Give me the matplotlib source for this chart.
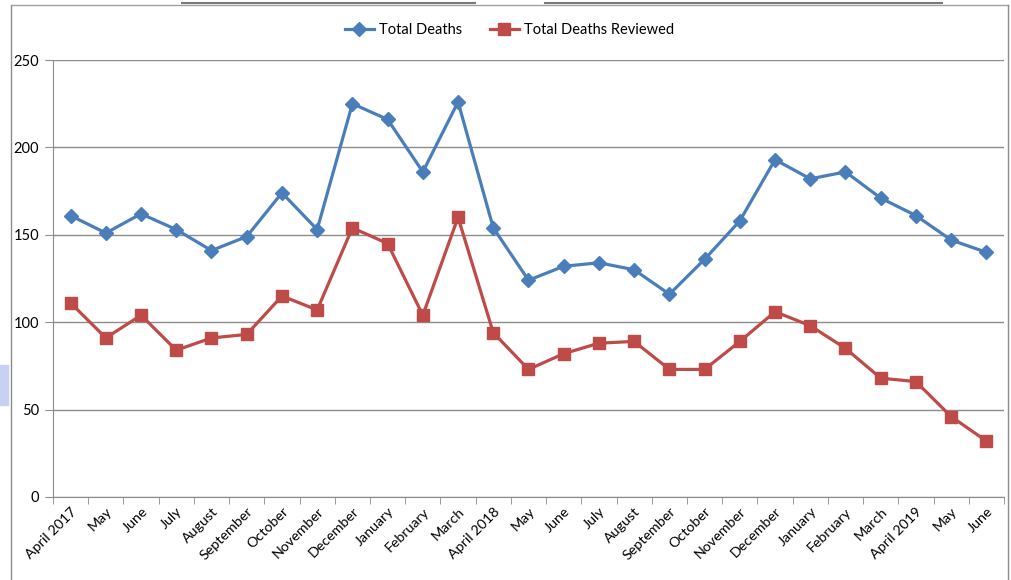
import numpy as np
import matplotlib.pyplot as plt
from matplotlib.lines import Line2D
from matplotlib.patches import Rectangle

# month labels along the x axis
months = ["April 2017", "May", "June", "July", "August", "September", "October",
          "November", "December", "January", "February", "March", "April 2018",
          "May", "June", "July", "August", "September", "October", "November",
          "December", "January", "February", "March", "April 2019", "May", "June"]

total_deaths = [161, 151, 162, 153, 141, 149, 174, 153, 225, 216, 186, 226, 154,
                124, 132, 134, 130, 116, 136, 158, 193, 182, 186, 171, 161, 147, 140]

deaths_reviewed = [111, 91, 104, 84, 91, 93, 115, 107, 154, 145, 104, 160, 94,
                   73, 82, 88, 89, 73, 73, 89, 106, 98, 85, 68, 66, 46, 32]

plt.rcParams['font.family'] = ['Lato', 'DejaVu Sans']

fig = plt.figure(figsize=(10.11, 5.80), dpi=100)
ax = fig.add_axes([53 / 1011, 83 / 580, (1004 - 53) / 1011, 437 / 580])

x = np.arange(len(months))
blue = "#4A7EBB"
red = "#BE4B48"

ax.plot(x, total_deaths, color=blue, lw=2.3, marker="D", ms=7,
        label="Total Deaths", zorder=3)
ax.plot(x, deaths_reviewed, color=red, lw=2.3, marker="s", ms=8,
        label="Total Deaths Reviewed", zorder=3)

ax.set_xlim(-0.5, len(months) - 0.5)
ax.set_ylim(0, 250)
ax.set_yticks(np.arange(0, 251, 50))
ax.yaxis.grid(True, color="#8c8c8c", lw=1)
ax.set_axisbelow(True)

ax.set_xticks(x)
ax.set_xticklabels(months, rotation=45, ha="right", rotation_mode="anchor",
                   fontsize=10.3)
ax.tick_params(axis="x", length=0, pad=6)
ax.set_xticks(np.arange(-0.5, len(months)), minor=True)
ax.tick_params(axis="x", which="minor", length=5, color="#8c8c8c")
ax.tick_params(axis="y", length=6, color="#8c8c8c", labelsize=10.5, pad=4)

for s in ["top", "right"]:
    ax.spines[s].set_visible(False)
for s in ["left", "bottom"]:
    ax.spines[s].set_color("#8c8c8c")

ax.legend(loc="upper center", bbox_to_anchor=(0.48, 1.115), ncol=2, frameon=False,
          fontsize=10.5, handlelength=2.0, columnspacing=1.9, handletextpad=0.35)

# outer chart border and stray bits at the edges of the screenshot
fig.add_artist(Line2D([11 / 1011, 11 / 1011], [0, 1 - 5 / 580], color="#8c8c8c", lw=1))
fig.add_artist(Line2D([11 / 1011, 1008 / 1011], [1 - 5 / 580, 1 - 5 / 580], color="#a0a0a0", lw=1))
fig.add_artist(Line2D([1008 / 1011, 1008 / 1011], [0, 1 - 5 / 580], color="#8c8c8c", lw=1))
fig.add_artist(Line2D([182 / 1011, 475 / 1011], [1 - 3 / 580, 1 - 3 / 580], color="#7a7a7a", lw=1.5))
fig.add_artist(Line2D([545 / 1011, 942 / 1011], [1 - 3 / 580, 1 - 3 / 580], color="#7a7a7a", lw=1.5))
fig.add_artist(Rectangle((0, 1 - 405 / 580), 8 / 1011, 40 / 580, color="#c9d1f3",
                         transform=fig.transFigure))

fig.savefig("out.png", dpi=100)
